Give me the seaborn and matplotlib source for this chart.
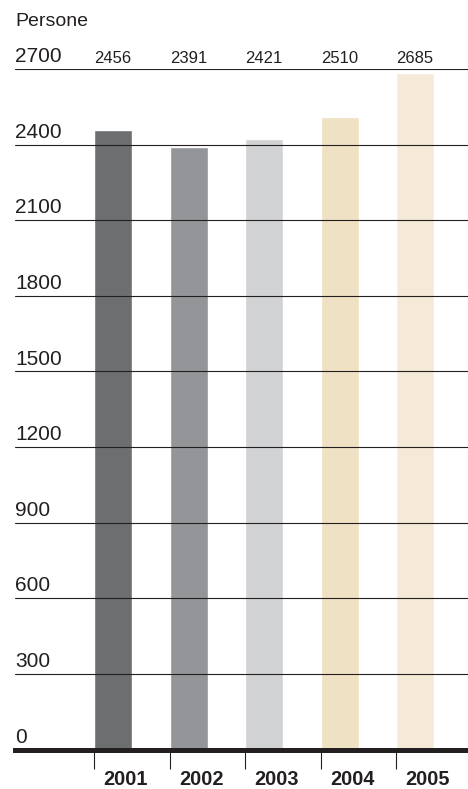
#!/usr/bin/env python3
"""Bar chart of persons per year (2001-2005)."""

import matplotlib
matplotlib.use("Agg")
import matplotlib.pyplot as plt
import seaborn as sns

years = ["2001", "2002", "2003", "2004", "2005"]
persons = [2456, 2391, 2421, 2510, 2685]
bar_colors = ["#6d6e70", "#939598", "#d1d2d4", "#efe1c4", "#f5ead8"]
y_ticks = [0, 300, 600, 900, 1200, 1500, 1800, 2100, 2400, 2700]

INK = "#231f20"

sns.set_theme(style="white")
plt.rcParams["font.family"] = ["Liberation Sans", "DejaVu Sans"]

W, H = 468, 789
fig = plt.figure(figsize=(W / 100, H / 100), dpi=100)
ax = fig.add_axes([15 / W, (H - 749.5) / H, 1 - 15 / W, (749.5 - 69) / H])

bar_w = 0.5
sns.barplot(x=years, y=persons, hue=years, palette=bar_colors, legend=False,
            width=bar_w, saturation=1, ax=ax, zorder=1)

ax.set_xlim(-1.3, 4.7)
ax.set_ylim(0, 2700)
ax.set_xlabel("")
ax.set_ylabel("")

# gridlines drawn over the bars
ax.set_yticks(y_ticks)
ax.set_yticklabels([])
ax.tick_params(axis="y", length=0)
ax.set_axisbelow(False)
ax.yaxis.grid(True, color=INK, linewidth=0.8)
for gl in ax.get_ygridlines():
    gl.set_zorder(2)

for s in ["top", "right", "left"]:
    ax.spines[s].set_visible(False)
ax.spines["bottom"].set_color(INK)
ax.spines["bottom"].set_linewidth(3.6)
ax.spines["bottom"].set_zorder(3)

# y labels sit just above their lines
for v in y_ticks:
    ax.annotate(str(v), xy=(0, v), xycoords=("axes fraction", "data"),
                xytext=(0, 5), textcoords="offset points",
                ha="left", va="baseline", fontsize=15, color=INK)

# ticks at bar left edges, year labels to their right
edges = [i - bar_w / 2 for i in range(len(years))]
ax.set_xticks(edges)
ax.set_xticklabels([])
ax.tick_params(axis="x", direction="out", length=14, width=0.8, color=INK,
               bottom=True)
for x, yr in zip(edges, years):
    ax.annotate(yr, xy=(x, 0), xycoords=("data", "axes fraction"),
                xytext=(6.5, -25.5), textcoords="offset points",
                ha="left", va="baseline", fontsize=14.3, fontweight="bold",
                color=INK, annotation_clip=False)

# values above the top line
for i, v in enumerate(persons):
    ax.annotate(str(v), xy=(i, 1), xycoords=("data", "axes fraction"),
                xytext=(0, 4.3), textcoords="offset points",
                ha="center", va="baseline", fontsize=12, color=INK,
                annotation_clip=False)

fig.text(15 / W, 1 - 26 / H, "Persone", ha="left", va="baseline",
         fontsize=14, color=INK)

fig.savefig("out.png", dpi=100)
